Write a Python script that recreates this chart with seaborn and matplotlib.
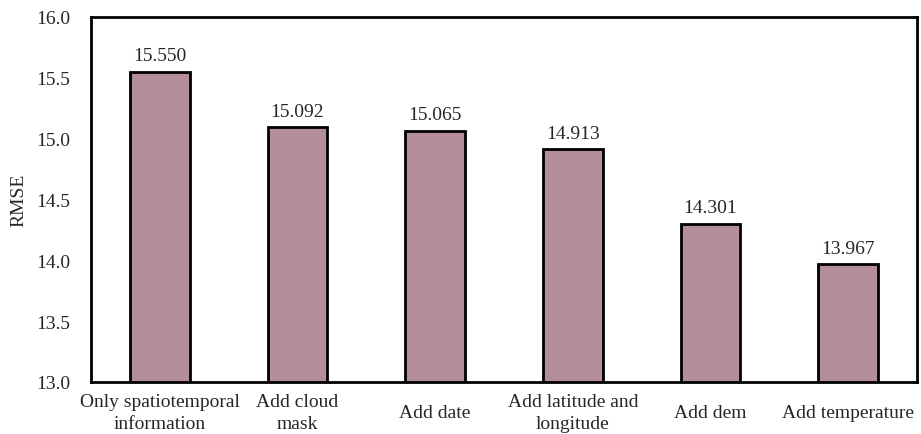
import matplotlib
matplotlib.use("Agg")
import matplotlib.pyplot as plt
import seaborn as sns
import pandas as pd

categories = [
    "Only spatiotemporal\ninformation",
    "Add cloud\nmask",
    "Add date",
    "Add latitude and\nlongitude",
    "Add dem",
    "Add temperature",
]
rmse = [15.550, 15.092, 15.065, 14.913, 14.301, 13.967]
y_ticks = [13.0, 13.5, 14.0, 14.5, 15.0, 15.5, 16.0]

sns.set_style("white")
plt.rcParams["font.family"] = ["Liberation Serif", "DejaVu Serif"]
plt.rcParams["font.size"] = 14

df = pd.DataFrame({"feature": categories, "RMSE": rmse})

fig = plt.figure(figsize=(9.21, 4.35), dpi=100)
ax = fig.add_axes([91 / 921, 1 - 383 / 435, 826 / 921, 365 / 435])

sns.barplot(data=df, x="feature", y="RMSE", color="#B38D9B", saturation=1,
            width=0.435, edgecolor="black", linewidth=2, ax=ax)

ax.set_ylim(13.0, 16.0)
ax.set_yticks(y_ticks)
ax.set_yticklabels([f"{t:.1f}" for t in y_ticks], fontsize=14)
ax.set_xlim(-0.5, len(categories) - 0.5)
ax.set_xlabel("")
ax.set_ylabel("RMSE", fontsize=14, labelpad=6)
ax.tick_params(axis="y", direction="out", length=5, width=2, color="black", pad=10)
ax.tick_params(axis="x", length=0, pad=22, labelsize=14)
for lbl in ax.get_xticklabels():
    lbl.set_verticalalignment("center")
    lbl.set_linespacing(1.45)
for s in ax.spines.values():
    s.set_visible(True)
    s.set_color("black")
    s.set_linewidth(2)

for i, v in enumerate(rmse):
    ax.text(i, v + 0.06, f"{v:.3f}", ha="center", va="bottom", fontsize=14)

fig.savefig("out.png", dpi=100)
